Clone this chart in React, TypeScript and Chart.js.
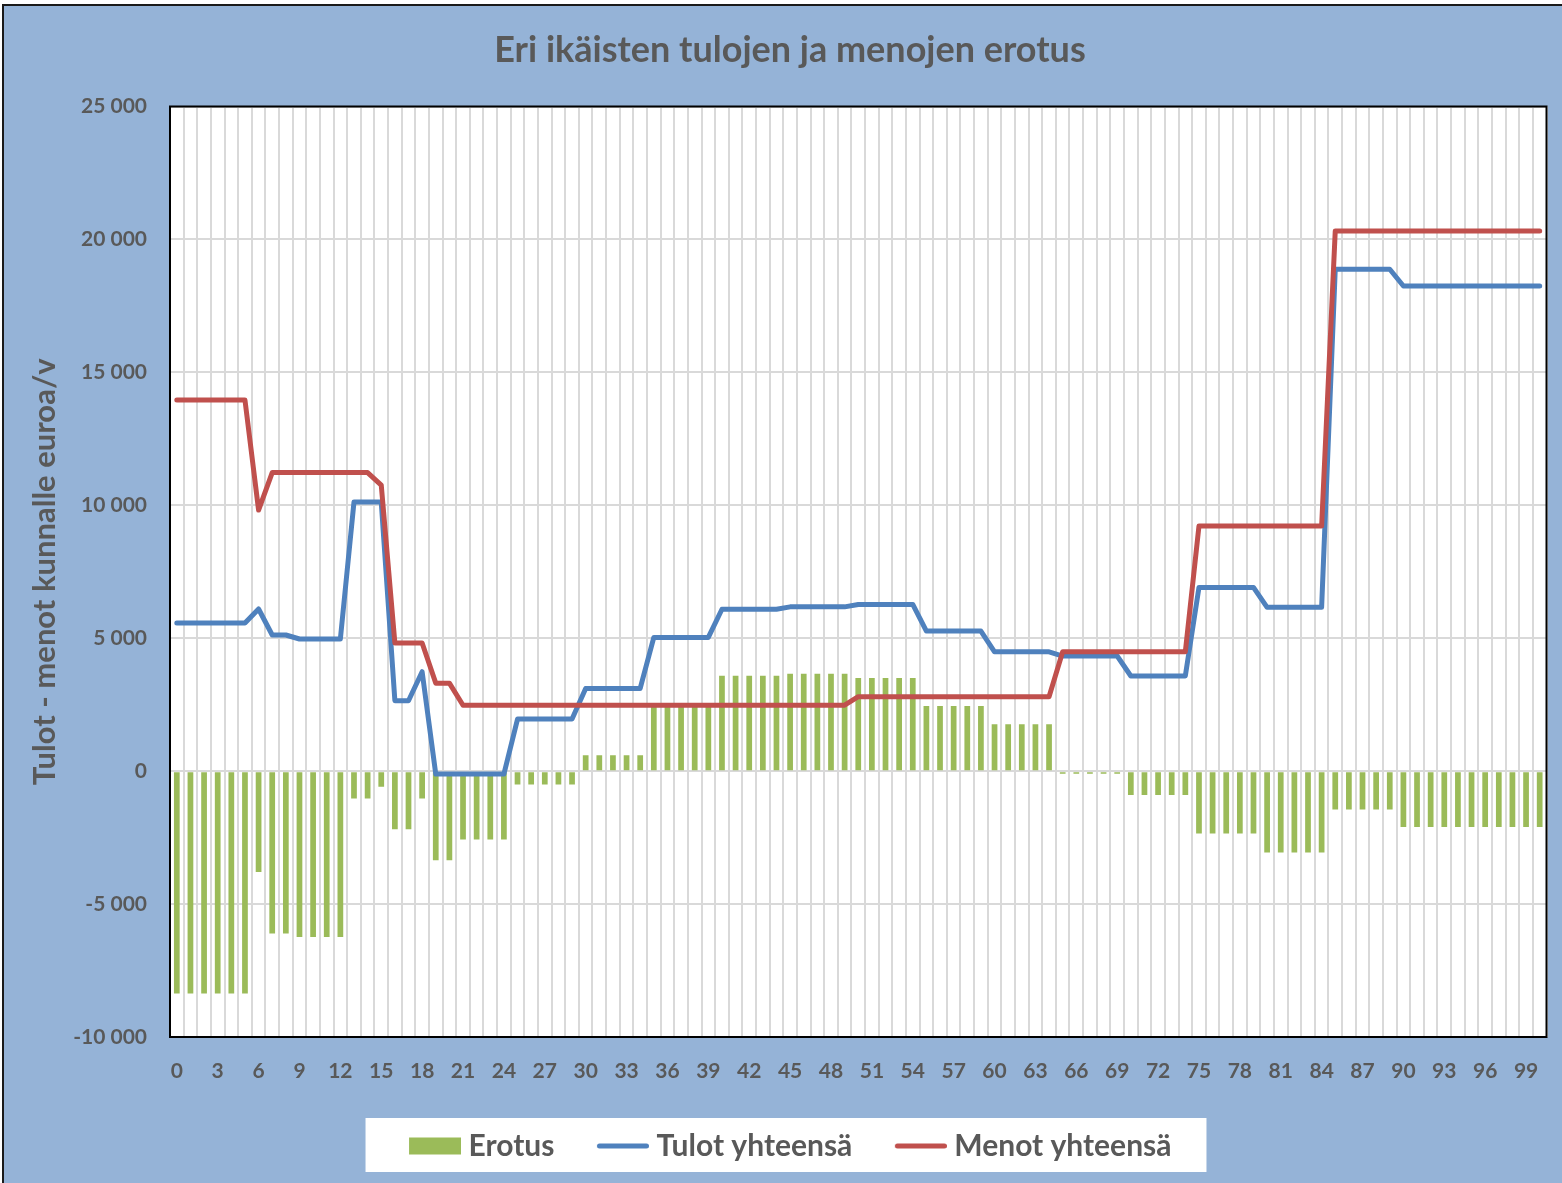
import React, { useEffect, useRef } from 'react';
import { Chart, registerables } from 'chart.js';

Chart.register(...registerables);

// ---- data ----
const ages: string[] = Array.from({ length: 101 }, (_, i) => String(i));

const erotus: number[] = [
  -8360, -8360, -8360, -8360, -8360, -8360, -3790, -6110, -6110, -6240,
  -6240, -6240, -6240, -1030, -1030, -590, -2190, -2190, -1030, -3350,
  -3350, -2570, -2570, -2570, -2570, -500, -500, -500, -500, -500,
  600, 600, 600, 600, 600, 2550, 2550, 2550, 2550, 2550,
  3590, 3590, 3590, 3590, 3590, 3660, 3660, 3660, 3660, 3660,
  3500, 3500, 3500, 3500, 3500, 2450, 2450, 2450, 2450, 2450,
  1760, 1760, 1760, 1760, 1760, -100, -100, -100, -100, -100,
  -900, -900, -900, -900, -900, -2350, -2350, -2350, -2350, -2350,
  -3060, -3060, -3060, -3060, -3060, -1440, -1440, -1440, -1440, -1440,
  -2100, -2100, -2100, -2100, -2100, -2100, -2100, -2100, -2100, -2100,
  -2100,
];

const tulot: number[] = [
  5570, 5570, 5570, 5570, 5570, 5570, 6100, 5120, 5120, 4970,
  4970, 4970, 4970, 10120, 10120, 10120, 2650, 2650, 3740, -110,
  -110, -110, -110, -110, -110, 1960, 1960, 1960, 1960, 1960,
  3110, 3110, 3110, 3110, 3110, 5030, 5030, 5030, 5030, 5030,
  6090, 6090, 6090, 6090, 6090, 6180, 6180, 6180, 6180, 6180,
  6270, 6270, 6270, 6270, 6270, 5270, 5270, 5270, 5270, 5270,
  4490, 4490, 4490, 4490, 4490, 4330, 4330, 4330, 4330, 4330,
  3580, 3580, 3580, 3580, 3580, 6910, 6910, 6910, 6910, 6910,
  6160, 6160, 6160, 6160, 6160, 18880, 18880, 18880, 18880, 18880,
  18250, 18250, 18250, 18250, 18250, 18250, 18250, 18250, 18250, 18250,
  18250,
];

const menot: number[] = [
  13960, 13960, 13960, 13960, 13960, 13960, 9820, 11230, 11230, 11230,
  11230, 11230, 11230, 11230, 11230, 10760, 4820, 4820, 4820, 3310,
  3310, 2480, 2480, 2480, 2480, 2480, 2480, 2480, 2480, 2480,
  2480, 2480, 2480, 2480, 2480, 2480, 2480, 2480, 2480, 2480,
  2480, 2480, 2480, 2480, 2480, 2480, 2480, 2480, 2480, 2480,
  2800, 2800, 2800, 2800, 2800, 2800, 2800, 2800, 2800, 2800,
  2800, 2800, 2800, 2800, 2800, 4490, 4490, 4490, 4490, 4490,
  4490, 4490, 4490, 4490, 4490, 9220, 9220, 9220, 9220, 9220,
  9220, 9220, 9220, 9220, 9220, 20320, 20320, 20320, 20320, 20320,
  20320, 20320, 20320, 20320, 20320, 20320, 20320, 20320, 20320, 20320,
  20320,
];

const seriesNames = ['Erotus', 'Tulot yhteensä', 'Menot yhteensä'];
const titleText = 'Eri ikäisten tulojen ja menojen erotus';
const yTitleText = 'Tulot - menot kunnalle euroa/v';
const yMin = -10000;
const yMax = 25000;
const yStep = 5000;

// ---- styles ----
const GREEN = '#9BBB59';
const BLUE = '#4F81BD';
const RED = '#C0504D';
const TEXT = '#595959';
const BG = '#95B3D7';
const GRID = '#D9D9D9';
const FONT = 'Lato, "Open Sans", sans-serif';

function fmt(v: number): string {
  const s = Math.abs(v).toString().replace(/\B(?=(\d{3})+(?!\d))/g, ' ');
  return (v < 0 ? '-' : '') + s;
}

// legend symbol images: 60 wide, visible content on the right 52 px
function makeSymbol(kind: 'rect' | 'line', color: string): HTMLCanvasElement {
  const c = document.createElement('canvas');
  c.width = 60;
  c.height = 18;
  const g = c.getContext('2d')!;
  if (kind === 'rect') {
    g.fillStyle = color;
    g.fillRect(8, 0.5, 52, 17);
  } else {
    g.strokeStyle = color;
    g.lineWidth = 5;
    g.lineCap = 'round';
    g.beginPath();
    g.moveTo(10.5, 9);
    g.lineTo(57.5, 9);
    g.stroke();
  }
  return c;
}

const bgPlugin = {
  id: 'bgPlugin',
  beforeDraw(chart: any) {
    const { ctx, width, height, chartArea: a } = chart;
    ctx.save();
    ctx.fillStyle = '#ffffff';
    ctx.fillRect(0, 0, width, height);
    ctx.fillStyle = BG;
    ctx.fillRect(3, 5, width, height);
    ctx.strokeStyle = '#1a1a1a';
    ctx.lineWidth = 2;
    ctx.beginPath();
    ctx.moveTo(3, height + 5);
    ctx.lineTo(3, 5);
    ctx.lineTo(width + 5, 5);
    ctx.stroke();
    ctx.fillStyle = '#ffffff';
    ctx.fillRect(a.left, a.top, a.right - a.left, a.bottom - a.top);
    const boxes = chart.legend && chart.legend.legendHitBoxes;
    if (boxes && boxes.length) {
      const first = boxes[0];
      const last = boxes[boxes.length - 1];
      const l = first.left - 43;
      const r = last.left + last.width + 35;
      const t = first.top - 13;
      const b = first.top + first.height + 11;
      ctx.fillRect(l, t, r - l, b - t);
    }
    ctx.restore();
  },
  afterDraw(chart: any) {
    const { ctx, chartArea: a } = chart;
    ctx.save();
    ctx.strokeStyle = '#000000';
    ctx.lineWidth = 2;
    ctx.strokeRect(a.left, a.top, a.right - a.left, a.bottom - a.top);
    ctx.restore();
  },
};

export default function App() {
  const ref = useRef<HTMLCanvasElement | null>(null);

  useEffect(() => {
    if (!ref.current) return;
    const symGreen = makeSymbol('rect', GREEN);
    const symBlue = makeSymbol('line', BLUE);
    const symRed = makeSymbol('line', RED);
    const chart = new Chart(ref.current, {
      type: 'bar',
      data: {
        labels: ages,
        datasets: [
          {
            type: 'bar',
            label: seriesNames[0],
            data: erotus,
            backgroundColor: GREEN,
            borderWidth: 0,
            barPercentage: 0.42,
            categoryPercentage: 1,
            order: 2,
          } as any,
          {
            type: 'line',
            label: seriesNames[1],
            data: tulot,
            borderColor: BLUE,
            backgroundColor: BLUE,
            borderWidth: 5,
            pointRadius: 0,
            tension: 0,
            borderJoinStyle: 'round',
            borderCapStyle: 'round',
            order: 1,
          } as any,
          {
            type: 'line',
            label: seriesNames[2],
            data: menot,
            borderColor: RED,
            backgroundColor: RED,
            borderWidth: 5,
            pointRadius: 0,
            tension: 0,
            borderJoinStyle: 'round',
            borderCapStyle: 'round',
            order: 0,
          } as any,
        ],
      },
      options: {
        responsive: false,
        animation: false,
        devicePixelRatio: 1,
        layout: { padding: { left: 33.5, right: 15.5, top: 0, bottom: 12 } },
        plugins: {
          title: {
            display: true,
            text: titleText,
            color: TEXT,
            font: { family: FONT, size: 36, weight: 'bold', lineHeight: 1.2 },
            padding: { top: 28.4, bottom: 34.9 },
          },
          legend: {
            display: true,
            position: 'bottom',
            labels: {
              color: TEXT,
              font: { family: FONT, size: 30, weight: 'bold' },
              usePointStyle: true,
              pointStyleWidth: 45,
              boxHeight: 18,
              padding: 42,
              generateLabels: () => [
                {
                  text: seriesNames[0],
                  fillStyle: GREEN,
                  strokeStyle: GREEN,
                  lineWidth: 0,
                  pointStyle: symGreen,
                  hidden: false,
                  datasetIndex: 0,
                  fontColor: TEXT,
                },
                {
                  text: seriesNames[1],
                  fillStyle: BLUE,
                  strokeStyle: BLUE,
                  lineWidth: 0,
                  pointStyle: symBlue,
                  hidden: false,
                  datasetIndex: 1,
                  fontColor: TEXT,
                },
                {
                  text: seriesNames[2],
                  fillStyle: RED,
                  strokeStyle: RED,
                  lineWidth: 0,
                  pointStyle: symRed,
                  hidden: false,
                  datasetIndex: 2,
                  fontColor: TEXT,
                },
              ],
            },
          } as any,
          tooltip: { enabled: false },
        },
        scales: {
          x: {
            offset: true,
            grid: { display: true, offset: true, color: GRID, lineWidth: 2, drawTicks: false },
            border: { display: false },
            ticks: {
              autoSkip: false,
              maxRotation: 0,
              minRotation: 0,
              padding: 22,
              color: TEXT,
              font: { family: FONT, size: 21, weight: 'bold' },
              callback: (_v: any, i: number) => (i % 3 === 0 ? ages[i] : ''),
            },
            afterFit: (scale: any) => {
              scale.height = 52;
            },
          },
          y: {
            min: yMin,
            max: yMax,
            grid: { display: true, color: GRID, lineWidth: 2, drawTicks: false },
            border: { display: false },
            ticks: {
              stepSize: yStep,
              padding: 23,
              color: TEXT,
              font: { family: FONT, size: 21, weight: 'bold' },
              callback: (v: any) => fmt(Number(v)),
            },
            title: {
              display: true,
              text: yTitleText,
              color: TEXT,
              font: { family: FONT, size: 31, weight: 'bold', lineHeight: 0.72 },
              padding: { top: 0, bottom: 0 },
            },
            afterFit: (scale: any) => {
              scale.width = 136.5;
            },
          },
        },
      } as any,
      plugins: [bgPlugin],
    });
    return () => chart.destroy();
  }, []);

  return (
    <div style={{ position: 'absolute', left: 0, top: 0, width: 1562, height: 1183 }}>
      <canvas ref={ref} width={1562} height={1183} style={{ display: 'block' }} />
    </div>
  );
}
